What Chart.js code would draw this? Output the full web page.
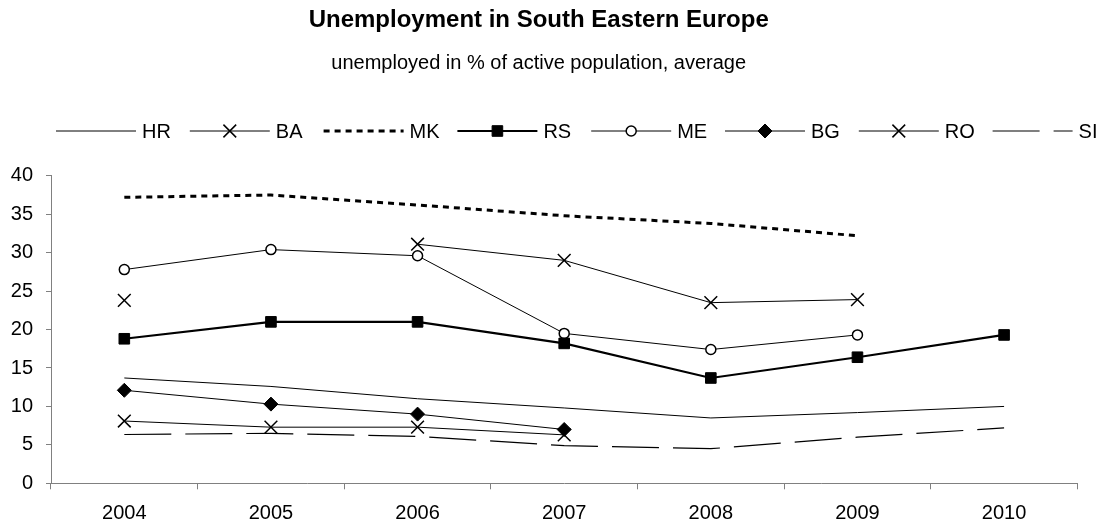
<!DOCTYPE html>
<html>
<head>
<meta charset="utf-8">
<title>Unemployment in South Eastern Europe</title>
<script src="https://cdn.jsdelivr.net/npm/chart.js"></script>
<style>
    html, body { margin: 0; padding: 0; background: #fff; }
    #wrap { width: 1104px; height: 524px; }
</style>
</head>
<body>
<div id="wrap"><canvas id="unemploymentChart"></canvas></div>
<script>
    const years = ['2004', '2005', '2006', '2007', '2008', '2009', '2010'];
    const yTicks = [0, 5, 10, 15, 20, 25, 30, 35, 40];

    // unemployed in % of active population, yearly average
    const hr = [13.7, 12.6, 11.0, 9.8, 8.5, 9.2, 10.0];
    const ba = [23.8, null, 31.1, 29.0, 23.5, 23.9, null];
    const mk = [37.2, 37.5, 36.2, 34.8, 33.8, 32.2, null];
    const rs = [18.8, 21.0, 21.0, 18.2, 13.7, 16.4, 19.3];
    const me = [27.8, 30.4, 29.6, 19.5, 17.4, 19.3, null];
    const bg = [12.1, 10.3, 9.0, 7.0, null, null, null];
    const ro = [8.1, 7.3, 7.3, 6.3, null, null, null];
    const si = [6.35, 6.5, 6.1, 4.9, 4.5, 6.0, 7.2];

    const FONT = '"Liberation Sans", Arial, sans-serif';
    const AXIS_GREY = '#808080';

    Chart.defaults.font.family = FONT;
    Chart.defaults.color = '#000';

    function series(label, data, extra) {
        return Object.assign({
            label: label,
            data: data,
            borderColor: '#000',
            borderWidth: 1,
            pointRadius: 0,
            pointStyle: false,
            pointBackgroundColor: '#000',
            pointBorderColor: '#000',
            pointBorderWidth: 1.5,
            spanGaps: false,
            tension: 0
        }, extra || {});
    }

    const datasets = [
        series('HR', hr),
        series('BA', ba, {pointStyle: 'crossRot', pointRadius: 9}),
        series('MK', mk, {borderWidth: 3, borderDash: [6, 5]}),
        series('RS', rs, {borderWidth: 2.2, pointStyle: 'rect', pointRadius: 7.5, pointBorderWidth: 1}),
        series('ME', me, {pointStyle: 'circle', pointRadius: 5, pointBackgroundColor: '#fff'}),
        series('BG', bg, {pointStyle: 'rectRot', pointRadius: 7, pointBorderWidth: 1}),
        series('RO', ro, {pointStyle: 'crossRot', pointRadius: 9}),
        series('SI', si, {borderWidth: 1.2, borderDash: [47, 14]})
    ];

    // legend with a short line sample and the marker in the middle of it
    const lineLegend = {
        id: 'lineLegend',
        afterDraw(chart, args, opts) {
            const ctx = chart.ctx;
            ctx.save();
            ctx.font = opts.fontSize + 'px ' + FONT;
            ctx.textBaseline = 'middle';
            ctx.textAlign = 'left';
            chart.data.datasets.forEach((ds, i) => {
                const x = opts.left + i * opts.step;
                const y = opts.y;
                ctx.strokeStyle = ds.borderColor;
                ctx.lineWidth = ds.borderWidth;
                ctx.setLineDash(ds.borderDash || []);
                ctx.beginPath();
                ctx.moveTo(x, y);
                ctx.lineTo(x + opts.lineLength, y);
                ctx.stroke();
                ctx.setLineDash([]);
                if (ds.pointStyle) {
                    ctx.fillStyle = ds.pointBackgroundColor;
                    ctx.strokeStyle = ds.pointBorderColor;
                    ctx.lineWidth = ds.pointBorderWidth;
                    Chart.helpers.drawPoint(ctx, {
                        pointStyle: ds.pointStyle,
                        radius: ds.pointRadius,
                        rotation: 0,
                        borderWidth: ds.pointBorderWidth
                    }, x + opts.lineLength / 2, y);
                }
                ctx.fillStyle = '#000';
                ctx.fillText(ds.label, x + opts.lineLength + 6, y + 1);
            });
            ctx.restore();
        }
    };

    new Chart(document.getElementById('unemploymentChart'), {
        type: 'line',
        data: {labels: years, datasets: datasets},
        plugins: [lineLegend],
        options: {
            responsive: true,
            maintainAspectRatio: false,
            animation: false,
            layout: {padding: {top: 0, left: 0, right: 26.6, bottom: 0.7}},
            plugins: {
                legend: {display: false},
                tooltip: {enabled: false},
                title: {
                    display: true,
                    text: 'Unemployment in South Eastern Europe',
                    font: {size: 24, weight: 'bold'},
                    color: '#000',
                    padding: {top: 6, bottom: 6}
                },
                subtitle: {
                    display: true,
                    text: 'unemployed in % of active population, average',
                    font: {size: 20},
                    color: '#000',
                    padding: {top: 11, bottom: 100}
                },
                lineLegend: {left: 56, step: 133.8, y: 131, lineLength: 80, fontSize: 20}
            },
            scales: {
                x: {
                    offset: true,
                    grid: {
                        display: true,
                        offset: true,
                        drawOnChartArea: false,
                        drawTicks: true,
                        tickLength: 6,
                        color: AXIS_GREY
                    },
                    border: {color: AXIS_GREY, width: 1},
                    ticks: {font: {size: 20}, padding: 12, color: '#000', maxRotation: 0},
                    afterFit(scale) { scale.height = 40; }
                },
                y: {
                    min: 0,
                    max: 40,
                    afterBuildTicks(scale) { scale.ticks = yTicks.map(v => ({value: v})); },
                    grid: {
                        display: true,
                        drawOnChartArea: false,
                        drawTicks: true,
                        tickLength: 5,
                        color: AXIS_GREY
                    },
                    border: {color: AXIS_GREY, width: 1},
                    ticks: {font: {size: 20}, padding: 13, color: '#000'},
                    afterFit(scale) { scale.width = 51; }
                }
            }
        }
    });
</script>
</body>
</html>
